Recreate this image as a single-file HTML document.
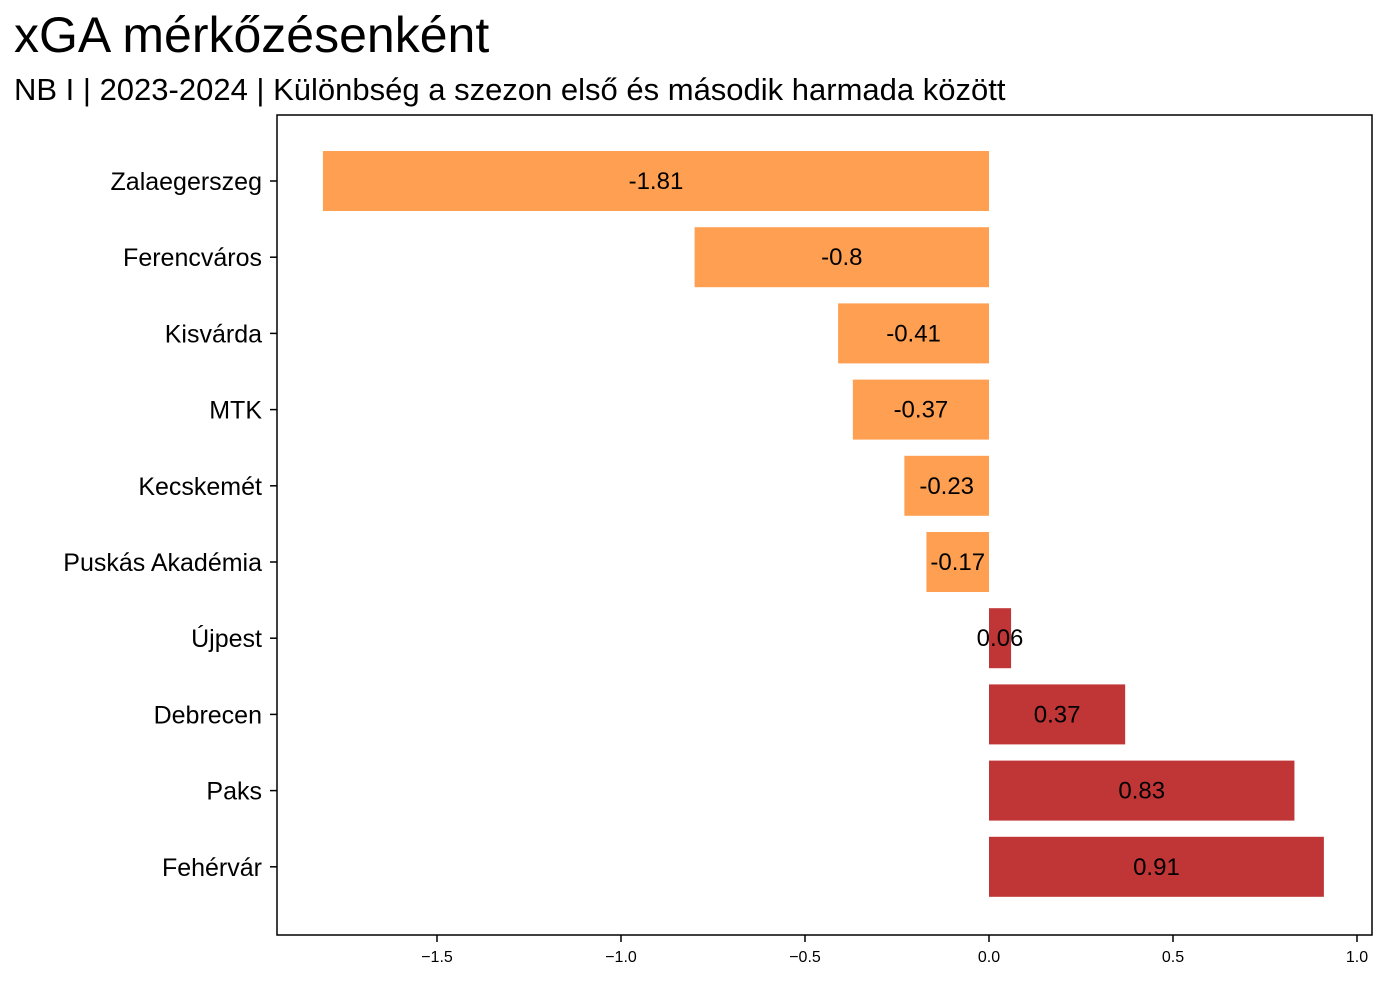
<!DOCTYPE html>
<html><head><meta charset="utf-8">
<style>
body{margin:0;background:#fff;width:1386px;height:981px;overflow:hidden;font-family:"Liberation Sans","DejaVu Sans",sans-serif;}
svg text{font-family:"Liberation Sans","DejaVu Sans",sans-serif;}
</style></head>
<body>
<svg id="chart" width="1386" height="981">
<text x="14" y="52" font-size="50" fill="#000">xGA mérkőzésenként</text>
<text x="14" y="100" font-size="31" fill="#000">NB I | 2023-2024 | Különbség a szezon első és második harmada között</text>
<rect x="277" y="115" width="1095" height="820" fill="none" stroke="#000" stroke-width="1.5"/>
<g id="bars"></g>
<g id="yaxis"></g>
<g id="xaxis"></g>
</svg>
<script>
const teams=["Zalaegerszeg","Ferencváros","Kisvárda","MTK","Kecskemét","Puskás Akadémia","Újpest","Debrecen","Paks","Fehérvár"];
const values=[-1.81,-0.8,-0.41,-0.37,-0.23,-0.17,0.06,0.37,0.83,0.91];
const xTicks=[-1.5,-1.0,-0.5,0.0,0.5,1.0];
const xTickLabels=["−1.5","−1.0","−0.5","0.0","0.5","1.0"];
const NS="http://www.w3.org/2000/svg";
const x=v=>989+v*368;
const y=i=>181+i*76.2;
const bh=60;
function mk(tag,attrs,parent){const e=document.createElementNS(NS,tag);for(const k in attrs)e.setAttribute(k,attrs[k]);parent.appendChild(e);return e;}
const gb=document.getElementById('bars'),gy=document.getElementById('yaxis'),gx=document.getElementById('xaxis');
values.forEach((v,i)=>{
  const x0=Math.min(x(0),x(v)),w=Math.abs(x(v)-x(0));
  const r=mk('rect',{x:x0,y:y(i)-bh/2,width:w,height:bh,fill:v<0?'#FE9F51':'#C03535'},gb);
  
  
  const t=mk('text',{x:x0+w/2,y:y(i)+8,'font-size':24,'text-anchor':'middle',fill:'#000'},gb);
  
  
  t.textContent=String(v);
  const tk=mk('line',{x1:270,x2:277,y1:y(i),y2:y(i),stroke:'#000','stroke-width':1.5},gy);
  
  
  const l=mk('text',{x:262,y:y(i)+9,'font-size':25,'text-anchor':'end',fill:'#000'},gy);
  
  
  l.textContent=teams[i];
});
xTicks.forEach((v,i)=>{
  const tk=mk('line',{x1:x(v),x2:x(v),y1:935,y2:942,stroke:'#000','stroke-width':1.5},gx);
  
  
  const l=mk('text',{x:x(v),y:962,'font-size':16,'text-anchor':'middle',fill:'#000'},gx);
  
  
  l.textContent=xTickLabels[i];
});
</script>
</body></html>
